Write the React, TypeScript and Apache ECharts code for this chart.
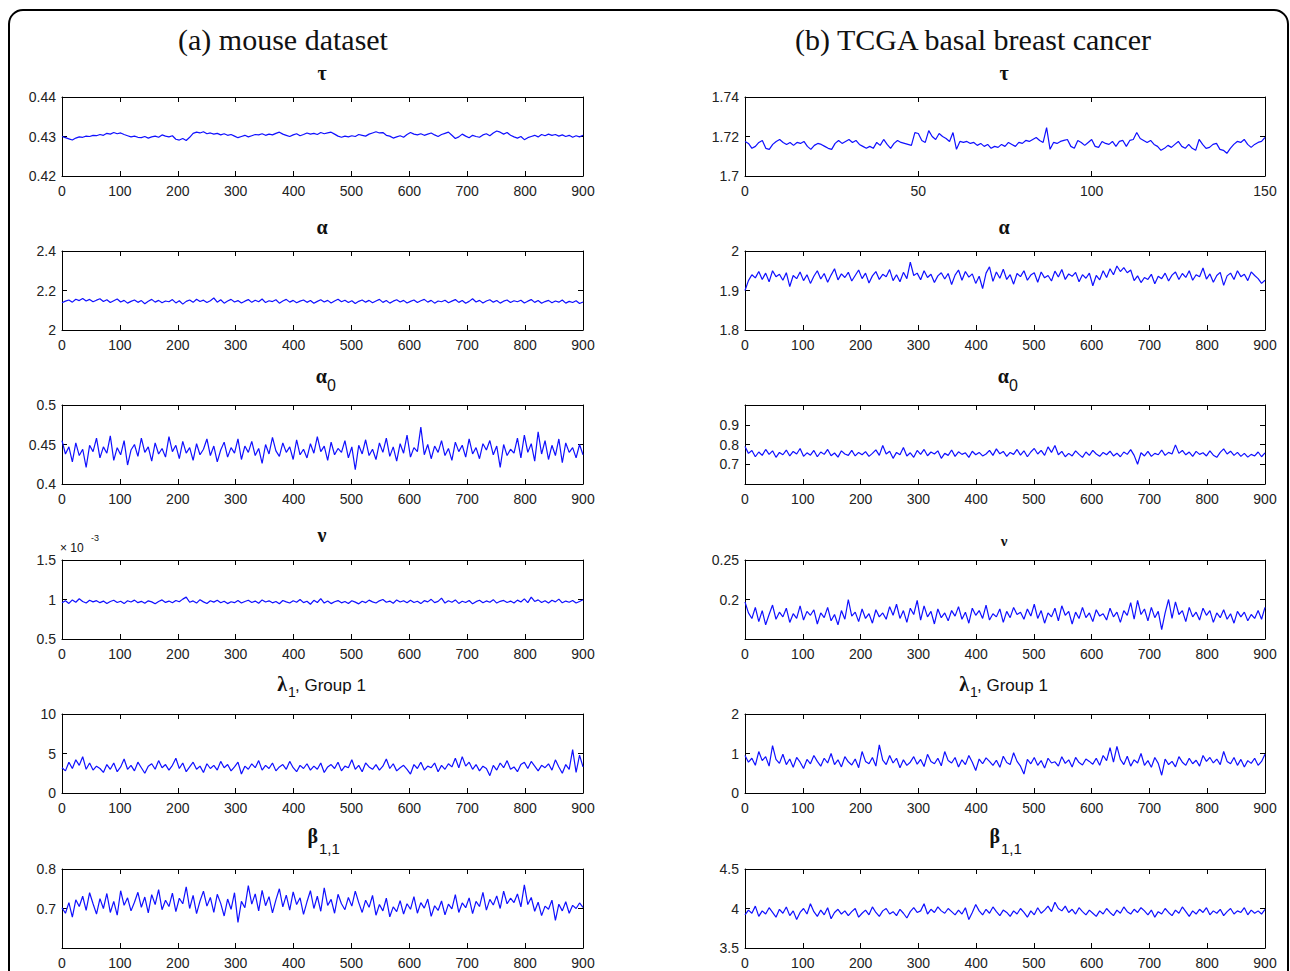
import React, { useEffect, useRef } from "react";
import * as echarts from "echarts";

// ---------------- data ----------------
const tauA = [
  0.4300, 0.4297, 0.4294, 0.4291, 0.4296, 0.4299, 0.4298, 0.4301, 0.4300, 0.4303, 0.4302,
  0.4305, 0.4303, 0.4308, 0.4306, 0.4310, 0.4307, 0.4309, 0.4305, 0.4302, 0.4299,
  0.4301, 0.4298, 0.4297, 0.4300, 0.4296, 0.4299, 0.4301, 0.4298, 0.4304, 0.4301,
  0.4299, 0.4302, 0.4293, 0.4291, 0.4295, 0.4290, 0.4298, 0.4308, 0.4311, 0.4309,
  0.4312, 0.4307, 0.4309, 0.4306, 0.4308, 0.4304, 0.4307, 0.4303, 0.4305, 0.4301,
  0.4297, 0.4300, 0.4303, 0.4299, 0.4302, 0.4305, 0.4304, 0.4307, 0.4303, 0.4306,
  0.4304, 0.4308, 0.4311, 0.4306, 0.4303, 0.4300, 0.4304, 0.4307, 0.4302, 0.4305,
  0.4309, 0.4306, 0.4308, 0.4305, 0.4310, 0.4307, 0.4309, 0.4311, 0.4306, 0.4301,
  0.4298, 0.4301, 0.4299, 0.4302, 0.4300, 0.4305, 0.4303, 0.4301, 0.4306, 0.4309,
  0.4312, 0.4309, 0.4310, 0.4303, 0.4301, 0.4296, 0.4299, 0.4302, 0.4298, 0.4305,
  0.4310, 0.4306, 0.4304, 0.4307, 0.4303, 0.4306, 0.4309, 0.4304, 0.4300, 0.4305,
  0.4308, 0.4311, 0.4303, 0.4295, 0.4299, 0.4306, 0.4301, 0.4297, 0.4303, 0.4300,
  0.4298, 0.4304, 0.4307, 0.4302, 0.4309, 0.4314, 0.4311, 0.4306, 0.4310, 0.4303,
  0.4299, 0.4296, 0.4300, 0.4292, 0.4297, 0.4300, 0.4303, 0.4299, 0.4305, 0.4302,
  0.4306, 0.4303, 0.4305, 0.4301, 0.4304, 0.4300, 0.4303, 0.4298, 0.4302, 0.4299, 0.4303,
];

const alphaA = [
  2.138, 2.146, 2.152, 2.141, 2.156, 2.149, 2.160, 2.147, 2.155, 2.143, 2.151,
  2.158, 2.144, 2.153, 2.139, 2.148, 2.157, 2.142, 2.150, 2.136, 2.145,
  2.152, 2.140, 2.149, 2.133, 2.146, 2.155, 2.141, 2.150, 2.138, 2.147,
  2.143, 2.154, 2.137, 2.148, 2.131, 2.145, 2.152, 2.140, 2.156, 2.144,
  2.151, 2.139, 2.148, 2.162, 2.141, 2.153, 2.136, 2.147, 2.155, 2.142,
  2.149, 2.137, 2.146, 2.154, 2.140, 2.151, 2.143, 2.157, 2.139, 2.148,
  2.144, 2.153, 2.136, 2.147, 2.155, 2.141, 2.150, 2.138, 2.146, 2.152,
  2.140, 2.149, 2.135, 2.145, 2.153, 2.142, 2.150, 2.137, 2.147, 2.156,
  2.143, 2.151, 2.139, 2.148, 2.134, 2.145, 2.152, 2.141, 2.150, 2.138,
  2.147, 2.155, 2.140, 2.149, 2.136, 2.146, 2.153, 2.142, 2.150, 2.137,
  2.145, 2.152, 2.139, 2.148, 2.155, 2.141, 2.150, 2.136, 2.147, 2.143,
  2.151, 2.138, 2.146, 2.154, 2.140, 2.149, 2.135, 2.145, 2.158, 2.142,
  2.150, 2.137, 2.147, 2.153, 2.141, 2.149, 2.136, 2.146, 2.152, 2.139,
  2.148, 2.143, 2.151, 2.137, 2.146, 2.154, 2.140, 2.149, 2.135, 2.144,
  2.150, 2.138, 2.147, 2.141, 2.152, 2.136, 2.145, 2.139, 2.148, 2.134, 2.142,
];

const alpha0A = [
  0.455, 0.438, 0.447, 0.428, 0.452, 0.436, 0.444, 0.421, 0.449, 0.441, 0.458,
  0.433, 0.447, 0.439, 0.461, 0.430, 0.446, 0.437, 0.455, 0.424, 0.443,
  0.450, 0.435, 0.458, 0.440, 0.447, 0.429, 0.452, 0.438, 0.445, 0.434,
  0.460, 0.441, 0.449, 0.432, 0.454, 0.439, 0.446, 0.430, 0.451, 0.437,
  0.444, 0.457, 0.436, 0.448, 0.428, 0.443, 0.453, 0.434, 0.446, 0.439,
  0.457, 0.431, 0.448, 0.440, 0.454, 0.436, 0.445, 0.426, 0.450, 0.438,
  0.459, 0.442, 0.435, 0.452, 0.440, 0.447, 0.431, 0.456, 0.437, 0.444,
  0.433, 0.451, 0.439, 0.460, 0.441, 0.448, 0.430, 0.453, 0.437, 0.445,
  0.440, 0.455, 0.433, 0.447, 0.418, 0.449, 0.438, 0.456, 0.436, 0.444,
  0.431, 0.452, 0.440, 0.458, 0.435, 0.447, 0.429, 0.451, 0.439, 0.462,
  0.434, 0.446, 0.441, 0.472, 0.437, 0.450, 0.432, 0.448, 0.440, 0.455,
  0.436, 0.445, 0.430, 0.453, 0.441, 0.449, 0.434, 0.457, 0.438, 0.446,
  0.432, 0.451, 0.443, 0.455, 0.437, 0.448, 0.421, 0.450, 0.436, 0.444,
  0.439, 0.458, 0.433, 0.462, 0.440, 0.451, 0.429, 0.466, 0.438, 0.455,
  0.431, 0.449, 0.436, 0.457, 0.427, 0.452, 0.440, 0.446, 0.433, 0.450, 0.437,
];

// nu (mouse) in units of 1e-3
const nuA = [
  0.960, 0.985, 0.950, 0.995, 0.965, 1.010, 0.975, 0.955, 0.990, 0.970, 0.985,
  0.960, 0.980, 0.950, 0.975, 0.990, 0.962, 0.978, 0.948, 0.985, 0.968,
  0.992, 0.960, 0.977, 0.952, 0.983, 0.970, 0.945, 0.975, 0.995, 0.963,
  0.980, 0.958, 0.988, 0.972, 1.005, 1.030, 0.965, 0.982, 0.955, 0.998,
  0.970, 0.950, 0.985, 0.967, 0.990, 0.958, 0.978, 0.948, 0.972, 0.960,
  0.986, 0.955, 0.975, 0.990, 0.962, 0.980, 0.952, 0.995, 0.968, 0.983,
  0.958, 0.975, 0.946, 0.988, 0.970, 0.955, 0.985, 0.965, 1.000, 0.960,
  0.978, 0.940, 0.990, 0.962, 1.012, 0.955, 0.980, 0.948, 0.972, 0.986,
  0.958, 0.975, 0.950, 0.985, 0.967, 0.945, 0.978, 0.960, 0.992, 0.970,
  0.955, 0.983, 1.000, 0.965, 0.980, 0.952, 0.995, 0.968, 0.985, 0.958,
  0.990, 0.962, 0.978, 0.948, 0.985, 0.970, 1.002, 0.960, 0.976, 1.018,
  0.955, 0.984, 0.966, 0.995, 0.950, 0.978, 0.962, 0.988, 0.945, 0.973,
  0.990, 0.958, 0.982, 0.965, 0.998, 0.955, 0.977, 0.988, 0.962, 0.980,
  0.955, 0.992, 0.968, 1.008, 0.960, 1.030, 0.975, 0.995, 0.962, 0.985,
  0.955, 0.990, 0.970, 1.005, 0.958, 0.980, 0.965, 0.988, 0.955, 0.975, 0.998,
];

const lambdaA = [
  3.2, 2.8, 3.9, 3.1, 4.2, 3.5, 4.6, 3.0, 3.8, 2.9, 3.4,
  3.1, 2.6, 3.6, 3.0, 3.8, 2.7, 3.3, 4.3, 3.0, 3.5,
  2.8, 3.9, 3.2, 2.5, 3.4, 3.7, 3.0, 4.1, 3.2, 3.6,
  2.9, 3.5, 4.4, 3.1, 3.8, 2.7, 3.3, 3.9, 3.0, 3.4,
  2.6, 3.7, 3.1, 3.5, 2.9, 4.0, 3.2, 3.6, 2.8, 3.3,
  3.9, 2.4, 3.4, 3.0, 3.7, 3.2, 4.1, 2.9, 3.5, 3.1,
  3.8, 2.8, 3.3, 3.6, 3.0, 4.0, 3.2, 2.7, 3.5, 3.1,
  3.7, 2.9, 3.4, 3.0, 3.8, 2.6, 3.3, 3.6, 3.1, 3.9,
  2.8, 3.4, 3.2, 4.2, 3.0, 3.5, 2.7, 3.8, 3.3, 3.0,
  3.6, 2.9, 3.4, 4.3, 3.1, 3.7, 2.8, 3.2, 3.5, 3.0,
  2.4, 3.6, 3.1, 3.9, 2.9, 3.4, 3.2, 3.8, 2.7, 3.5,
  3.0, 3.7, 3.3, 4.4, 3.2, 4.6, 3.4, 3.9, 3.0, 3.6,
  2.8, 3.4, 3.1, 2.2, 3.5, 2.9, 3.8, 3.2, 4.1, 3.0,
  3.3, 2.7, 3.6, 3.9, 3.1, 4.0, 3.4, 2.8, 3.5, 3.2,
  3.7, 2.9, 4.2, 3.3, 2.5, 3.6, 3.0, 5.5, 2.6, 4.8, 3.3,
];

const betaA = [
  0.702, 0.688, 0.715, 0.678, 0.722, 0.705, 0.731, 0.695, 0.740, 0.712, 0.686,
  0.725, 0.700, 0.738, 0.690, 0.718, 0.683, 0.745, 0.708, 0.727, 0.694,
  0.716, 0.741, 0.703, 0.729, 0.689, 0.735, 0.710, 0.748, 0.697, 0.721,
  0.705, 0.739, 0.692, 0.726, 0.712, 0.755, 0.700, 0.733, 0.687, 0.719,
  0.744, 0.706, 0.728, 0.690, 0.736, 0.713, 0.681, 0.724, 0.698, 0.740,
  0.665, 0.718, 0.702, 0.758, 0.711, 0.737, 0.694, 0.746, 0.707, 0.730,
  0.689, 0.722, 0.750, 0.704, 0.734, 0.696, 0.742, 0.710, 0.727, 0.685,
  0.717, 0.745, 0.700, 0.731, 0.693, 0.752, 0.708, 0.723, 0.688, 0.736,
  0.712, 0.697, 0.728, 0.706, 0.744, 0.715, 0.690, 0.721, 0.703, 0.733,
  0.683, 0.710, 0.694, 0.726, 0.679, 0.704, 0.692, 0.720, 0.686, 0.712,
  0.698, 0.730, 0.688, 0.715, 0.701, 0.724, 0.680, 0.707, 0.695, 0.719,
  0.684, 0.711, 0.699, 0.735, 0.690, 0.714, 0.702, 0.727, 0.687, 0.718,
  0.705, 0.741, 0.696, 0.723, 0.709, 0.732, 0.700, 0.744, 0.712, 0.726,
  0.715, 0.737, 0.704, 0.760, 0.710, 0.728, 0.693, 0.716, 0.682, 0.706,
  0.698, 0.721, 0.670, 0.711, 0.694, 0.717, 0.688, 0.708, 0.700, 0.714, 0.703,
];

const tauB = [
  1.7175, 1.7165, 1.7140, 1.7150, 1.7170, 1.7180, 1.7140, 1.7135, 1.7160, 1.7175,
  1.7185, 1.7170, 1.7160, 1.7170, 1.7155, 1.7170, 1.7165, 1.7175, 1.7150, 1.7135,
  1.7155, 1.7165, 1.7160, 1.7150, 1.7140, 1.7135, 1.7165, 1.7180, 1.7165, 1.7175,
  1.7185, 1.7170, 1.7180, 1.7160, 1.7150, 1.7140, 1.7150, 1.7140, 1.7170, 1.7155,
  1.7185, 1.7160, 1.7140, 1.7165, 1.7180, 1.7170, 1.7165, 1.7160, 1.7155, 1.7220,
  1.7215, 1.7180, 1.7170, 1.7230, 1.7200, 1.7185, 1.7215, 1.7200, 1.7190, 1.7175,
  1.7220, 1.7135, 1.7175, 1.7170, 1.7175, 1.7165, 1.7170, 1.7155, 1.7165, 1.7150,
  1.7160, 1.7140, 1.7150, 1.7145, 1.7160, 1.7150, 1.7170, 1.7160, 1.7150, 1.7170,
  1.7165, 1.7180, 1.7175, 1.7185, 1.7195, 1.7180, 1.7170, 1.7245, 1.7135, 1.7170,
  1.7165, 1.7175, 1.7180, 1.7185, 1.7150, 1.7140, 1.7180, 1.7170, 1.7155, 1.7170,
  1.7185, 1.7150, 1.7145, 1.7175, 1.7165, 1.7160, 1.7175, 1.7150, 1.7175, 1.7180,
  1.7150, 1.7180, 1.7185, 1.7220, 1.7190, 1.7180, 1.7170, 1.7180, 1.7160, 1.7150,
  1.7130, 1.7140, 1.7155, 1.7145, 1.7160, 1.7175, 1.7150, 1.7140, 1.7160, 1.7140,
  1.7130, 1.7185, 1.7160, 1.7140, 1.7145, 1.7160, 1.7165, 1.7135, 1.7130, 1.7115,
  1.7140, 1.7160, 1.7175, 1.7170, 1.7185, 1.7160, 1.7145, 1.7160, 1.7170, 1.7175,
  1.7195,
];

const alphaB = [
  1.900, 1.925, 1.940, 1.932, 1.948, 1.928, 1.944, 1.922, 1.950, 1.935, 1.941,
  1.926, 1.945, 1.910, 1.938, 1.930, 1.947, 1.925, 1.940, 1.918, 1.936,
  1.950, 1.929, 1.943, 1.921, 1.939, 1.955, 1.927, 1.942, 1.933, 1.946,
  1.924, 1.938, 1.952, 1.930, 1.944, 1.919, 1.937, 1.948, 1.928, 1.941,
  1.935, 1.953, 1.925, 1.940, 1.922, 1.946, 1.930, 1.972, 1.938, 1.944,
  1.927, 1.950, 1.933, 1.941, 1.920, 1.937, 1.945, 1.929, 1.943, 1.915,
  1.939, 1.952, 1.926, 1.948, 1.934, 1.942, 1.918, 1.936, 1.905, 1.944,
  1.960, 1.923, 1.947, 1.931, 1.954, 1.928, 1.940, 1.916, 1.943, 1.935,
  1.950, 1.926, 1.939, 1.945, 1.921, 1.947, 1.932, 1.938, 1.924, 1.949,
  1.934, 1.953, 1.928, 1.942, 1.936, 1.946, 1.922, 1.940, 1.931, 1.944,
  1.912, 1.938, 1.927, 1.950, 1.933, 1.955, 1.940, 1.962, 1.948, 1.958,
  1.945, 1.952, 1.925, 1.937, 1.920, 1.933, 1.928, 1.941, 1.917, 1.936,
  1.930, 1.944, 1.924, 1.939, 1.947, 1.928, 1.943, 1.933, 1.950, 1.926,
  1.940, 1.935, 1.957, 1.929, 1.942, 1.921, 1.938, 1.946, 1.913, 1.937,
  1.944, 1.928, 1.950, 1.935, 1.941, 1.925, 1.947, 1.938, 1.930, 1.918, 1.926,
];

const alpha0B = [
  0.790, 0.755, 0.770, 0.738, 0.762, 0.745, 0.775, 0.750, 0.768, 0.735, 0.760,
  0.748, 0.772, 0.742, 0.765, 0.752, 0.780, 0.740, 0.758, 0.746, 0.770,
  0.738, 0.762, 0.750, 0.775, 0.743, 0.757, 0.736, 0.768, 0.752, 0.745,
  0.770, 0.742, 0.760, 0.748, 0.764, 0.740, 0.755, 0.773, 0.745, 0.795,
  0.752, 0.766, 0.730, 0.760, 0.748, 0.785, 0.742, 0.758, 0.735, 0.770,
  0.750, 0.775, 0.743, 0.762, 0.752, 0.768, 0.730, 0.755, 0.745, 0.772,
  0.740, 0.763, 0.750, 0.758, 0.735, 0.766, 0.748, 0.760, 0.742, 0.752,
  0.770, 0.745, 0.778, 0.753, 0.765, 0.740, 0.760, 0.750, 0.775, 0.746,
  0.768, 0.738, 0.762, 0.780, 0.752, 0.770, 0.745, 0.788, 0.760, 0.795,
  0.748, 0.765, 0.738, 0.755, 0.742, 0.768, 0.750, 0.735, 0.762, 0.745,
  0.770, 0.752, 0.740, 0.760, 0.748, 0.766, 0.742, 0.756, 0.738, 0.762,
  0.750, 0.774, 0.745, 0.700, 0.758, 0.742, 0.765, 0.740, 0.755, 0.748,
  0.772, 0.745, 0.760, 0.752, 0.798, 0.755, 0.770, 0.748, 0.762, 0.740,
  0.765, 0.750, 0.758, 0.742, 0.768, 0.746, 0.735, 0.760, 0.778, 0.752,
  0.766, 0.745, 0.760, 0.740, 0.755, 0.736, 0.750, 0.742, 0.762, 0.738, 0.758,
];

const nuB = [
  0.197, 0.183, 0.176, 0.190, 0.172, 0.186, 0.168, 0.181, 0.193, 0.175, 0.184,
  0.178, 0.189, 0.171, 0.182, 0.176, 0.192, 0.174, 0.185, 0.180, 0.187,
  0.169, 0.183, 0.177, 0.190, 0.173, 0.181, 0.168, 0.186, 0.175, 0.200,
  0.179, 0.184, 0.172, 0.188, 0.176, 0.182, 0.170, 0.187, 0.178, 0.183,
  0.175, 0.191, 0.180, 0.194, 0.176, 0.186, 0.171, 0.189, 0.181, 0.199,
  0.174, 0.192, 0.178, 0.185, 0.169, 0.188, 0.177, 0.183, 0.173, 0.186,
  0.179, 0.191, 0.175, 0.184, 0.170, 0.189, 0.180, 0.186, 0.176, 0.193,
  0.174, 0.182, 0.178, 0.188, 0.171, 0.185, 0.177, 0.190, 0.181, 0.184,
  0.175, 0.188, 0.179, 0.194, 0.176, 0.186, 0.170, 0.183, 0.178, 0.189,
  0.173, 0.192, 0.180, 0.185, 0.169, 0.184, 0.176, 0.190, 0.177, 0.183,
  0.172, 0.187, 0.179, 0.182, 0.174, 0.189, 0.178, 0.184, 0.171, 0.186,
  0.180, 0.196, 0.175, 0.199, 0.181, 0.188, 0.173, 0.190, 0.177, 0.185,
  0.162, 0.183, 0.200, 0.176, 0.197, 0.181, 0.186, 0.172, 0.190, 0.178,
  0.184, 0.174, 0.189, 0.180, 0.186, 0.171, 0.183, 0.177, 0.187, 0.175,
  0.182, 0.170, 0.185, 0.178, 0.184, 0.173, 0.181, 0.176, 0.186, 0.175, 0.190,
];

const lambdaB = [
  0.95, 0.78, 0.88, 0.70, 1.05, 0.82, 0.92, 0.68, 1.20, 0.85, 0.75,
  0.98, 0.72, 0.86, 0.65, 0.90, 0.78, 0.62, 0.85, 0.74, 0.95,
  0.80, 0.68, 0.88, 0.76, 1.00, 0.72, 0.84, 0.66, 0.92, 0.79,
  0.71, 0.86, 0.64, 1.05, 0.80, 0.74, 0.90, 0.68, 1.22, 0.83,
  0.72, 0.95, 0.76, 0.88, 0.64, 0.84, 0.70, 0.78, 0.92, 0.73,
  0.85, 0.67, 0.98, 0.80, 0.74, 0.88, 0.69, 1.05, 0.82, 0.76,
  0.90, 0.66, 0.84, 0.72, 0.95, 0.78, 0.57, 0.86, 0.74, 0.89,
  0.80, 0.70, 0.83, 0.65, 0.93, 0.77, 0.72, 1.02, 0.80, 0.68,
  0.48, 0.85, 0.74, 0.90, 0.70, 0.82, 0.63, 0.88, 0.76, 0.79,
  0.68, 0.92, 0.75, 0.84, 0.66, 0.90, 0.77, 0.71, 0.86, 0.80,
  0.73, 0.88, 0.70, 0.95, 0.82, 1.15, 0.78, 1.18, 0.85, 0.72,
  0.93, 0.68, 0.84, 0.76, 1.00, 0.70, 0.82, 0.65, 0.90, 0.75,
  0.45, 0.86, 0.72, 0.80, 0.66, 0.92, 0.78, 0.70, 0.88, 0.74,
  0.83, 0.68, 0.95, 0.80, 0.90, 0.76, 0.86, 0.72, 1.05, 0.80,
  0.74, 0.90, 0.70, 0.85, 0.66, 0.82, 0.75, 0.88, 0.70, 0.80, 0.98,
];

const betaB = [
  3.92, 3.98, 3.94, 4.03, 3.90, 3.97, 3.93, 4.01, 3.95, 3.89, 3.99,
  3.94, 4.02, 3.91, 3.97, 3.86, 3.95, 4.00, 3.93, 4.06, 3.96,
  3.90, 3.98, 3.92, 4.01, 3.87, 3.95, 3.99, 3.93, 3.97, 3.91,
  3.96, 4.00, 3.89, 3.94, 3.98, 3.92, 4.02, 3.95, 3.90, 3.97,
  4.00, 3.93, 3.96, 3.91, 3.99, 3.94, 3.88, 3.96, 4.01, 3.95,
  3.97, 4.06, 3.93, 3.99, 3.95, 4.02, 3.97, 3.94, 4.00, 3.96,
  3.92, 3.98, 3.93, 4.01, 3.86, 3.95, 4.05, 3.97, 3.92, 3.99,
  3.94, 4.02, 3.96, 3.91, 3.98, 3.95, 3.90, 3.97, 3.93, 4.00,
  3.95, 3.89, 3.97, 3.92, 4.01, 3.94, 3.98, 4.03, 3.96, 4.08,
  4.00, 3.97, 4.03, 3.95, 3.99, 3.93, 4.01, 3.96, 3.92, 3.98,
  3.94, 3.90, 3.97, 3.93, 4.00, 3.95, 3.91, 3.98, 3.94, 4.02,
  3.96, 3.93, 3.99, 3.95, 4.01, 3.97, 3.92, 3.98, 3.89, 3.96,
  3.93, 4.00, 3.95, 3.91, 3.98, 3.94, 4.02, 3.96, 3.90, 3.97,
  3.93, 3.99, 3.95, 4.01, 3.92, 3.97, 3.94, 3.99, 3.91, 3.96,
  4.00, 3.93, 3.97, 3.95, 4.01, 3.92, 3.98, 3.94, 3.97, 3.93, 3.99,
];

// axis ranges per panel: [min, max, interval]
const xRangeLong = [0, 900, 100];
const xRangeShort = [0, 150, 50];
const yRanges = {
  tauA: [0.42, 0.44, 0.01],
  alphaA: [2, 2.4, 0.2],
  alpha0A: [0.4, 0.5, 0.05],
  nuA: [0.5, 1.5, 0.5],
  lambdaA: [0, 10, 5],
  betaA: [0.6, 0.8, 0.1],
  tauB: [1.7, 1.74, 0.02],
  alphaB: [1.8, 2, 0.1],
  alpha0B: [0.6, 1.0, 0.1],
  nuB: [0.15, 0.25, 0.05],
  lambdaB: [0, 2, 1],
  betaB: [3.5, 4.5, 0.5],
};
const hiddenYLabels = {
  betaA: [0.6],
  alpha0B: [0.6, 1],
  nuB: [0.15],
};

const columnTitles = ["(a) mouse dataset", "(b) TCGA basal breast cancer"];

// ---------------- layout ----------------
const COL_LEFT = [62, 745];
const COL_W = [521, 520];
const ROW_TOP = [97, 251, 405, 560, 714, 869];
const ROW_H = 79;
const COL_CX = [322, 1004];

const SERIF = "'Liberation Serif', 'Times New Roman', 'DejaVu Serif', serif";
const SANS = "'Liberation Sans Narrow', 'Arial Narrow', 'Liberation Sans', Arial, sans-serif";
const SANS_W = "'Liberation Sans', Arial, 'DejaVu Sans', sans-serif";

type Panel = { key: string; data: number[]; col: number; row: number; xr: number[] };

const panels: Panel[] = [
  { key: "tauA", data: tauA, col: 0, row: 0, xr: xRangeLong },
  { key: "alphaA", data: alphaA, col: 0, row: 1, xr: xRangeLong },
  { key: "alpha0A", data: alpha0A, col: 0, row: 2, xr: xRangeLong },
  { key: "nuA", data: nuA, col: 0, row: 3, xr: xRangeLong },
  { key: "lambdaA", data: lambdaA, col: 0, row: 4, xr: xRangeLong },
  { key: "betaA", data: betaA, col: 0, row: 5, xr: xRangeLong },
  { key: "tauB", data: tauB, col: 1, row: 0, xr: xRangeShort },
  { key: "alphaB", data: alphaB, col: 1, row: 1, xr: xRangeLong },
  { key: "alpha0B", data: alpha0B, col: 1, row: 2, xr: xRangeLong },
  { key: "nuB", data: nuB, col: 1, row: 3, xr: xRangeLong },
  { key: "lambdaB", data: lambdaB, col: 1, row: 4, xr: xRangeLong },
  { key: "betaB", data: betaB, col: 1, row: 5, xr: xRangeLong },
];

function fmt(v: number) {
  return String(parseFloat(v.toFixed(6)));
}

function buildOption() {
  const grid: any[] = [];
  const xAxis: any[] = [];
  const yAxis: any[] = [];
  const series: any[] = [];
  const axisLine = { show: true, onZero: false, lineStyle: { color: "#000", width: 1 } };
  const tick = { show: true, inside: true, length: 5, lineStyle: { color: "#000", width: 1 } };
  const label = { color: "#222", fontSize: 14, fontFamily: SANS };

  panels.forEach((p, k) => {
    grid.push({
      left: COL_LEFT[p.col],
      top: ROW_TOP[p.row],
      width: COL_W[p.col],
      height: ROW_H,
      containLabel: false,
    });
    const [xmin, xmax, xint] = p.xr;
    const [ymin, ymax, yint] = (yRanges as any)[p.key];
    const hidden: number[] = (hiddenYLabels as any)[p.key] || [];
    const xBase = { type: "value", gridIndex: k, min: xmin, max: xmax, interval: xint, axisLine, axisTick: tick, splitLine: { show: false } };
    xAxis.push({ ...xBase, position: "bottom", axisLabel: { ...label, margin: 8, formatter: (v: number) => fmt(v) } });
    xAxis.push({ ...xBase, position: "top", axisLabel: { show: false } });
    const yBase = { type: "value", gridIndex: k, min: ymin, max: ymax, interval: yint, axisLine, axisTick: tick, splitLine: { show: false } };
    yAxis.push({
      ...yBase,
      position: "left",
      axisLabel: {
        ...label,
        margin: 6,
        showMinLabel: true,
        showMaxLabel: true,
        formatter: (v: number) => (hidden.some((h) => Math.abs(h - v) < 1e-9) ? "" : fmt(v)),
      },
    });
    yAxis.push({ ...yBase, position: "right", axisLabel: { show: false } });
    const n = p.data.length;
    series.push({
      type: "line",
      xAxisIndex: 2 * k,
      yAxisIndex: 2 * k,
      data: p.data.map((v, i) => [(i * (xmax - xmin)) / (n - 1) + xmin, v]),
      showSymbol: false,
      symbol: "none",
      lineStyle: { color: "#1010ff", width: 1.2 },
      silent: true,
    });
  });

  const greek = (text: string, x: number, y: number, align: string, size = 20) => ({
    type: "text",
    x,
    y,
    silent: true,
    style: { text, font: `bold ${size}px ${SERIF}`, fill: "#111", align, verticalAlign: "middle" },
  });
  const sub = (text: string, x: number, y: number, align: string, size = 15) => ({
    type: "text",
    x,
    y,
    silent: true,
    style: { text, font: `${size}px ${SANS_W}`, fill: "#111", align, verticalAlign: "middle" },
  });

  const graphic: any[] = [
    {
      type: "rect",
      silent: true,
      shape: { x: 9, y: 10, width: 1279, height: 1010, r: 14 },
      style: { fill: "none", stroke: "#000", lineWidth: 2 },
    },
    {
      type: "text",
      x: 283,
      y: 39,
      style: { text: columnTitles[0], font: `30px ${SERIF}`, fill: "#111", align: "center", verticalAlign: "middle" },
    },
    {
      type: "text",
      x: 973,
      y: 39,
      style: { text: columnTitles[1], font: `30px ${SERIF}`, fill: "#111", align: "center", verticalAlign: "middle" },
    },
  ];

  [0, 1].forEach((c) => {
    const cx = COL_CX[c];
    graphic.push(greek("τ", cx, 73, "center"));
    graphic.push(greek("α", cx, 227, "center"));
    graphic.push(greek("α", cx + 5, 376, "right"));
    graphic.push(sub("0", cx + 5, 385, "left", 16));
    if (c === 0) graphic.push(greek("ν", cx, 535, "center"));
    else graphic.push(greek("ν", cx, 541, "center", 15));
    graphic.push(greek("λ", cx - 35, 684, "right"));
    graphic.push(sub("1", cx - 34, 692, "left", 14));
    graphic.push(sub(", Group 1", cx - 27, 685, "left", 17));
    graphic.push(greek("β", cx - 4, 836, "right"));
    graphic.push(sub("1,1", cx - 3, 848, "left", 15));
  });

  // x10^-3 exponent for nu (mouse)
  graphic.push(sub("× 10", 60, 548, "left", 12));
  graphic.push(sub("-3", 91, 538, "left", 9));

  return {
    animation: false,
    backgroundColor: "#fff",
    grid,
    xAxis,
    yAxis,
    series,
    graphic,
  };
}

export default function App() {
  const ref = useRef<HTMLDivElement>(null);
  useEffect(() => {
    if (!ref.current) return;
    const chart = echarts.init(ref.current, undefined, { renderer: "svg" });
    chart.setOption(buildOption() as any);
    return () => chart.dispose();
  }, []);
  return (
    <div
      ref={ref}
      style={{ position: "absolute", left: 0, top: 0, width: 1290, height: 971, background: "#fff" }}
    />
  );
}
